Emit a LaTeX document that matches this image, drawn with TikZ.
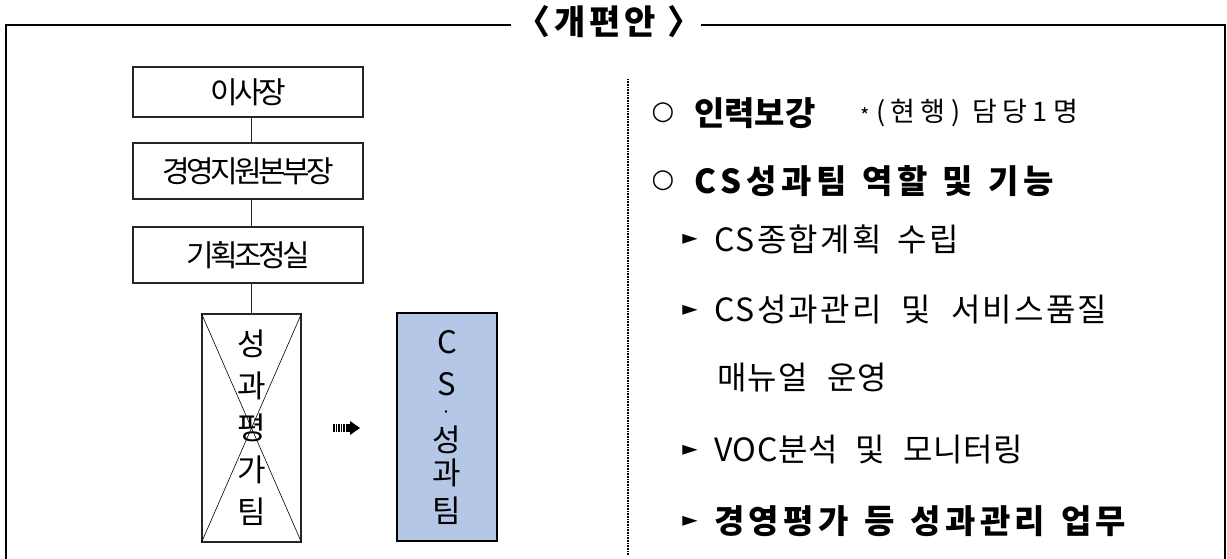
\documentclass[tikz,border=0pt]{standalone}
\usepackage{fontspec}
\setmainfont{Noto Sans CJK KR}
\newfontfamily\symfont{DejaVu Sans}
\newcommand\kfs[1]{\fontsize{#1}{#1}\selectfont}
\newcommand\lsp[1]{\addfontfeature{LetterSpace=#1}}
\definecolor{csblue}{RGB}{180,199,231}
\begin{document}
\begin{tikzpicture}[x=1pt,y=-1pt,
  frame/.style={line width=1.6pt},
  orgbox/.style={draw=black!85, line width=1.3pt, minimum width=230pt, inner sep=0pt, font=\kfs{30}\lsp{-12}},
  link/.style={line width=0.8pt, draw=black!85},
  crossbox/.style={draw=black!85, line width=1.1pt, minimum width=99pt, minimum height=228pt, inner sep=0pt, align=center, font=\kfs{31}},
  csbox/.style={draw=black, fill=csblue, line width=2.4pt, minimum width=100pt, minimum height=228pt, inner sep=0pt, align=center, font=\kfs{31}},
  rtext/.style={anchor=west, inner sep=0pt},
  bullet/.style={inner sep=0pt, font=\symfont\kfs{20}},
  circ/.style={inner sep=0pt, font=\symfont\kfs{26}}
]
\useasboundingbox (0,0) rectangle (1227,559);
% frame
\coordinate (tl) at (6,25);
\coordinate (tr) at (1225,25);
\coordinate (bl) at (6,560);
\coordinate (br) at (1225,560);
\draw[frame] (bl) -- (tl) -- (tr) -- (br);
\node[fill=white, inner xsep=0pt, inner ysep=2pt, font=\bfseries\kfs{34}\lsp{10}] (title) at (606,22) {\hspace{6pt}〈\hspace{4pt}개편안\hspace{12pt}〉};
% org chart
\node[orgbox, minimum height=50pt] (a) at (248,92) {이사장};
\node[orgbox, minimum height=56pt] (b) at (248,171) {경영지원본부장};
\node[orgbox, minimum height=56pt] (c) at (248,255) {기획조정실};
\node[crossbox] (pe) at (251.5,428) {성\\[11pt]과\\[11pt]평\\[11pt]가\\[11pt]팀};
\draw[line width=0.6pt] (pe.north west) -- (pe.south east);
\draw[line width=0.6pt] (pe.north east) -- (pe.south west);
\draw[link] (a.south -| pe.north) -- (b.north -| pe.north);
\draw[link] (b.south -| pe.north) -- (c.north -| pe.north);
\draw[link] (c.south -| pe.north) -- (pe.north);
\node[csbox] (cs) at (447,427) {C\\[11pt]S\\[-8pt]{\kfs{18}·}\\[2pt]성\\[2pt]과\\[7pt]팀};
% striped arrow
\coordinate (arr) at (347,428);
\foreach \dx in {-13,-10.5,-8,-5.5,-3} {
  \draw[line width=1.4pt] ([xshift=\dx pt, yshift=4pt]arr) -- ([xshift=\dx pt, yshift=-4pt]arr);
}
\fill ([xshift=-1pt, yshift=-4pt]arr) rectangle ([xshift=3pt, yshift=4pt]arr);
\fill ([xshift=3pt, yshift=-7pt]arr) -- ([xshift=13pt]arr) -- ([xshift=3pt, yshift=7pt]arr) -- cycle;
% dotted divider
\coordinate (d1) at (628,79);
\coordinate (d2) at (628,555);
\draw[line width=1.6pt, dash pattern=on 1pt off 0.6pt] (d1) -- (d2);
% right text
\node[circ] (o1) at (663,113) {○};
\node[rtext, font=\bfseries\kfs{33}] (t1) at (694,113) {인력보강};
\node[rtext, font=\kfs{20}] (ast) at (860,116) {*};
\node[rtext, font=\kfs{27}\lsp{20}] (t1b) at (876,113) {(현행)\hspace{12pt}담당1명};
\node[circ] (o2) at (663,181) {○};
\node[rtext, font=\bfseries\kfs{33}\lsp{15}] (t2) at (694,181) {CS성과팀\hspace{15pt}역할\hspace{15pt}및\hspace{15pt}기능};
\node[bullet] (b3) at (690,239) {►};
\node[rtext, font=\kfs{32}\lsp{7}] (t3) at (714,239) {CS종합계획\hspace{16pt}수립};
\node[bullet] (b4) at (690,310) {►};
\node[rtext, font=\kfs{32}\lsp{7}] (t4) at (714,310) {CS성과관리\hspace{20pt}및\hspace{20pt}서비스품질};
\node[rtext, font=\kfs{32}\lsp{3}] (t5) at (717,378) {매뉴얼\hspace{20pt}운영};
\node[bullet] (b6) at (690,450) {►};
\node[rtext, font=\kfs{32}\lsp{2}] (t6) at (714,450) {VOC분석\hspace{18pt}및\hspace{18pt}모니터링};
\node[bullet] (b7) at (690,521) {►};
\node[rtext, font=\bfseries\kfs{33}\lsp{13}] (t7) at (714,521) {경영평가\hspace{16pt}등\hspace{16pt}성과관리\hspace{16pt}업무};
\end{tikzpicture}
\end{document}
